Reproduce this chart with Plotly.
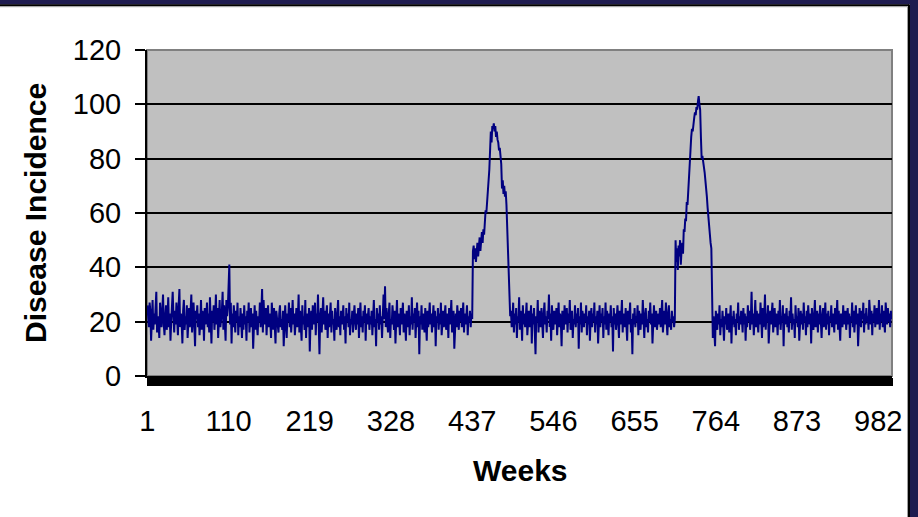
import plotly.graph_objects as go

# Weekly disease incidence, split into quiet stretches and the two outbreaks
baseline_a = [
    26, 22, 18, 27, 24, 13, 21, 28, 17, 23, 19, 25, 31, 16, 22, 20, 14, 27, 23, 18,
    24, 30, 19, 15, 22, 26, 17, 21, 29, 18, 23, 13, 20, 25, 31, 22, 16, 24, 19, 27,
    21, 15, 26, 32, 18, 23, 20, 12, 24, 28, 17, 22, 19, 26, 14, 21, 25, 18, 23, 30,
    16, 22, 27, 19, 11, 24, 21, 26, 18, 23, 15, 20, 28, 17, 24, 22, 13, 25, 19, 21,
    27, 18, 23, 16, 29, 21, 12, 24, 20, 26, 17, 22, 30, 19, 25, 14, 23, 28, 18, 21,
    24, 31, 17, 26, 20, 13, 28, 22, 25, 33, 41, 19, 27, 12, 23, 18, 26, 21, 16, 24,
    20, 27, 15, 22, 18, 25, 21, 14, 23, 17, 26, 19, 22, 13, 24, 20, 27, 16, 21, 25,
    18, 23, 10, 21, 26, 17, 24, 19, 15, 22, 20, 27, 18, 24, 32, 16, 28, 21, 19, 25,
    15, 22, 26, 18, 23, 20, 14, 27, 21, 17, 25, 19, 12, 24, 22, 20, 16, 23, 26, 18,
    21, 17, 24, 11, 22, 26, 19, 14, 23, 20, 27, 18, 25, 16, 21, 28, 19, 23, 15, 22,
    25, 18, 21, 30, 16, 24, 20, 13, 26, 19, 22, 17, 28, 14, 23, 21, 18, 25, 9, 20,
    24, 17, 26, 21, 19, 27, 15, 23, 20, 30, 18, 8, 22, 25, 16, 21, 29, 19, 24, 17,
    20, 26, 14, 23, 18, 22, 27, 16, 24, 19, 21, 13, 25, 20, 17, 23, 28, 18, 22, 15,
    24, 19, 21, 26, 17, 22, 12, 25, 20, 23, 18, 27, 15, 21, 19, 24, 16, 22, 26, 20,
    17, 23, 19, 25, 14, 21, 27, 18, 22, 16, 24, 20, 26, 13, 23, 19, 21, 25, 17, 22,
    19, 24, 15, 22, 28, 18, 21, 11, 25, 20, 23, 17, 26, 19, 22, 14, 24, 30, 21, 33,
    18, 25, 20, 16, 23, 27, 14, 21, 19, 26, 22, 17, 24, 12, 20, 28, 18, 23, 21, 15,
    25, 19, 22, 27, 16, 23, 20, 13, 24, 21, 18, 26, 15, 22, 19, 29, 17, 23, 20, 25,
    14, 21, 27, 18, 24, 8, 22, 19, 26, 17, 23, 20, 16, 25, 21, 13, 24, 18, 22, 27,
    19, 23, 16, 21, 26, 18, 24, 11, 22, 20, 25, 17, 23, 19, 27, 15, 21, 24, 18, 22,
    26, 17, 20, 23, 14, 25, 19, 22, 28, 16, 21, 24, 10, 20, 23, 18, 26, 21, 17, 24,
    20, 25, 18, 22, 27, 16, 23, 19, 21, 26, 15, 22, 20, 24, 18, 23, 21,
]

outbreak_1 = [
    46, 48, 43, 47, 42, 45, 49, 44, 48, 51, 46, 50, 53, 49, 54, 52, 57, 61, 60, 64,
    66, 71, 76, 83, 90, 86, 92, 91, 93, 90, 92, 88, 90, 87, 86, 83, 84, 81, 78, 69,
    72, 67, 70, 66, 68, 63, 55, 48, 37, 27, 22,
]

baseline_b = [
    24, 18, 21, 27, 16, 23, 19, 25, 14, 22, 20, 29, 17, 24, 21, 13, 26, 19, 23, 18,
    22, 27, 15, 21, 24, 18, 20, 26, 12, 23, 19, 25, 17, 8, 22, 20, 28, 16, 24, 21,
    18, 25, 20, 14, 23, 27, 19, 22, 16, 24, 21, 30, 18, 23, 13, 26, 20, 17, 24, 22,
    19, 25, 15, 21, 27, 18, 23, 20, 11, 24, 22, 17, 26, 19, 21, 25, 16, 23, 20, 28,
    17, 22, 24, 14, 21, 19, 26, 18, 23, 20, 25, 10, 22, 19, 27, 16, 24, 21, 18, 23,
    20, 26, 15, 22, 19, 24, 13, 21, 25, 18, 23, 20, 27, 16, 22, 19, 24, 12, 21, 26,
    18, 23, 20, 25, 14, 22, 19, 27, 17, 24, 21, 15, 23, 20, 26, 18, 22, 9, 25, 19,
    23, 17, 21, 26, 20, 14, 24, 19, 22, 28, 16, 23, 21, 18, 25, 20, 13, 24, 19, 22,
    27, 16, 21, 8, 23, 19, 25, 18, 22, 20, 26, 15, 24, 21, 17, 23, 19, 28, 20, 14,
    22, 25, 18, 21, 16, 24, 20, 27, 19, 23, 12, 22, 26, 18, 21, 24, 17, 20, 23, 19,
    25, 18, 22, 28, 16, 21, 24, 19, 27, 20, 15, 23, 26, 18, 21, 17, 24, 20, 22, 18,
    21,
]

outbreak_2 = [
    50, 42, 47, 39, 48, 44, 50, 41, 46, 49, 45, 54, 53, 58, 57, 64, 63, 67, 72, 76,
    83, 88, 91, 90, 94, 95, 97, 96, 99, 98, 101, 103, 100, 98, 88, 80, 81, 78, 77, 75,
    72, 70, 66, 62, 58, 54, 51, 49, 47,
]

baseline_c = [
    25, 14, 22, 18, 11, 24, 20, 17, 23, 19, 26, 15, 21, 18, 24, 20, 13, 22, 19, 25,
    17, 21, 23, 16, 20, 26, 12, 22, 19, 24, 18, 21, 15, 23, 20, 27, 17, 22, 19, 24,
    21, 16, 25, 19, 23, 13, 22, 18, 26, 20, 24, 17, 21, 31, 19, 23, 15, 22, 28, 18,
    24, 20, 16, 23, 19, 27, 21, 14, 25, 18, 22, 30, 17, 23, 20, 26, 12, 21, 24, 19,
    22, 27, 16, 20, 25, 18, 23, 21, 15, 24, 19, 28, 17, 22, 20, 26, 11, 23, 19, 21,
    25, 18, 22, 16, 24, 20, 29, 17, 23, 19, 21, 14, 26, 20, 22, 18, 25, 13, 21, 24,
    19, 23, 17, 27, 20, 22, 15, 24, 18, 26, 21, 19, 23, 12, 25, 20, 17, 22, 28, 18,
    21, 24, 16, 23, 19, 26, 20, 14, 22, 25, 18, 21, 27, 17, 23, 19, 24, 15, 22, 20,
    26, 18, 23, 21, 16, 25, 19, 22, 28, 17, 24, 20, 13, 23, 21, 18, 26, 19, 22, 24,
    17, 21, 25, 19, 23, 14, 22, 20, 27, 18, 24, 16, 21, 26, 19, 23, 11, 22, 25, 20,
    18, 24, 21, 27, 16, 23, 19, 25, 20, 22, 17, 28, 21, 19, 24, 15, 23, 20, 26, 18,
    22, 25, 19, 21, 28, 17, 23, 20, 26, 18, 24, 21, 16, 27, 22, 19, 25, 20, 23, 18,
    24, 21,
]

incidence = baseline_a + outbreak_1 + baseline_b + outbreak_2 + baseline_c
weeks = list(range(1, len(incidence) + 1))

week_ticks = [1, 110, 219, 328, 437, 546, 655, 764, 873, 982]
incidence_ticks = [0, 20, 40, 60, 80, 100, 120]

# Page geometry (pixels)
FIG_W, FIG_H = 918, 517
PL, PR, PT, PB = 147, 892, 50, 376


def fx(px):
    return (px - PL) / (PR - PL)


def fy(py):
    return (PB - py) / (PB - PT)


NAVY = "#1F1C50"
FONT = "Liberation Sans, Arial, sans-serif"
TICK_SIZE = 29
TITLE_SIZE = 30

fig = go.Figure()
fig.add_trace(go.Scatter(
    x=weeks, y=incidence, mode="lines",
    line=dict(color="#000080", width=2),
    hoverinfo="x+y", showlegend=False,
))

shapes = [
    # plot-area border
    dict(type="rect", xref="paper", yref="paper", x0=0, x1=1, y0=0, y1=1,
         line=dict(color="#808080", width=2), fillcolor="rgba(0,0,0,0)", layer="below"),
    # slide frame: navy band on top and right with a dark inner edge
    dict(type="rect", xref="paper", yref="paper", x0=fx(0), x1=fx(FIG_W), y0=fy(0), y1=fy(4.5),
         line=dict(width=0), fillcolor=NAVY),
    dict(type="rect", xref="paper", yref="paper", x0=fx(910), x1=fx(FIG_W), y0=fy(0), y1=fy(FIG_H),
         line=dict(width=0), fillcolor=NAVY),
    dict(type="line", xref="paper", yref="paper", x0=fx(0), x1=fx(909), y0=fy(5.2), y1=fy(5.2),
         line=dict(color="black", width=2)),
    dict(type="line", xref="paper", yref="paper", x0=fx(909), x1=fx(909), y0=fy(4.5), y1=fy(FIG_H),
         line=dict(color="black", width=2)),
    dict(type="line", xref="paper", yref="paper", x0=fx(0), x1=fx(907.5), y0=fy(6.7), y1=fy(6.7),
         line=dict(color="#A0A0A0", width=1)),
    dict(type="line", xref="paper", yref="paper", x0=fx(907.5), x1=fx(907.5), y0=fy(6.7), y1=fy(FIG_H),
         line=dict(color="#A0A0A0", width=1)),
]

annotations = [
    dict(text="<b>Disease Incidence</b>", xref="paper", yref="paper",
         x=fx(35), y=fy(213), textangle=-90, showarrow=False,
         xanchor="center", yanchor="middle",
         font=dict(family=FONT, size=TITLE_SIZE, color="black")),
    dict(text="<b>Weeks</b>", xref="paper", yref="paper",
         x=fx(520), y=fy(470), showarrow=False,
         xanchor="center", yanchor="middle",
         font=dict(family=FONT, size=TITLE_SIZE, color="black")),
]

fig.update_layout(
    width=FIG_W, height=FIG_H,
    margin=dict(l=PL, r=FIG_W - PR, t=PT, b=FIG_H - PB, pad=0),
    paper_bgcolor="white", plot_bgcolor="#C0C0C0",
    font=dict(family=FONT, size=TICK_SIZE, color="black"),
    shapes=shapes, annotations=annotations,
    xaxis=dict(
        range=[0.5, len(incidence) + 0.5],
        tickmode="array", tickvals=week_ticks, ticktext=[str(t) for t in week_ticks],
        ticks="outside", ticklen=8, tickcolor="black", tickwidth=1,
        minor=dict(dtick=1, tick0=0.5, ticks="outside", ticklen=8,
                   tickcolor="black", tickwidth=1, showgrid=False),
        showgrid=False, zeroline=False,
        showline=True, linecolor="black", linewidth=2,
        tickfont=dict(family=FONT, size=TICK_SIZE), ticklabelstandoff=10,
    ),
    yaxis=dict(
        range=[0, 120], tickmode="array", tickvals=incidence_ticks,
        ticks="outside", ticklen=10, tickcolor="black", tickwidth=1.5,
        showgrid=True, gridcolor="black", gridwidth=1.5,
        zeroline=False, showline=True, linecolor="black", linewidth=2,
        tickfont=dict(family=FONT, size=TICK_SIZE), ticklabelstandoff=8,
    ),
)

fig.write_html("out.html")
